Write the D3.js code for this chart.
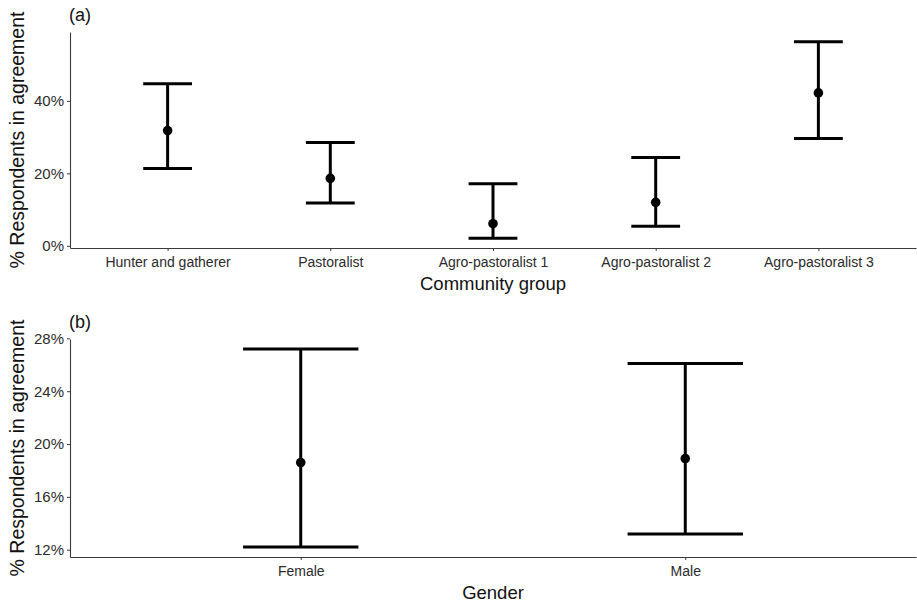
<!DOCTYPE html>
<html>
<head>
<meta charset="utf-8">
<script src="https://cdn.jsdelivr.net/npm/d3@7"></script>
<style>
  body { margin: 0; background: #fff; }
  svg { display: block; font-family: "Liberation Sans", Arial, sans-serif; }
</style>
</head>
<body>
<svg width="917" height="603"></svg>
<script>
// panel (a): community groups
var groups = ["Hunter and gatherer", "Pastoralist", "Agro-pastoralist 1", "Agro-pastoralist 2", "Agro-pastoralist 3"];
var groupMean = [31.8, 18.6, 6.1, 12.0, 42.2];
var groupLow = [21.3, 11.8, 2.1, 5.4, 29.6];
var groupHigh = [44.7, 28.5, 17.1, 24.4, 56.3];
var groupTicks = [0, 20, 40];

// panel (b): gender
var genders = ["Female", "Male"];
var genderMean = [18.6, 18.9];
var genderLow = [12.2, 13.2];
var genderHigh = [27.2, 26.1];
var genderTicks = [12, 16, 20, 24, 28];

var svg = d3.select('svg');

function panel(opt) {
    var g = svg.append('g');
    var lo = d3.min(opt.low), hi = d3.max(opt.high);
    var pad = (hi - lo) * 0.05;

    var y = d3.scaleLinear().domain([lo - pad, hi + pad]).range([opt.bottom, opt.top]);
    // ggplot-style discrete expansion: 0.6 of a step on each side
    var x = d3.scalePoint().domain(opt.cats).range([opt.left, opt.right]).padding(0.6);
    var step = x.step();

    var data = opt.cats.map((c, i) => ({ cat: c, mean: opt.mean[i], low: opt.low[i], high: opt.high[i] }));

    // axes
    var yAxis = d3.axisLeft(y).tickValues(opt.ticks).tickSize(3).tickSizeOuter(0).tickPadding(3)
        .tickFormat(d => d + '%');
    var xAxis = d3.axisBottom(x).tickSize(3).tickSizeOuter(0).tickPadding(6);

    var ya = g.append('g').attr('transform', 'translate(' + opt.left + ',0)').call(yAxis);
    var xa = g.append('g').attr('transform', 'translate(0,' + opt.bottom + ')').call(xAxis);
    [ya, xa].forEach(a => {
        a.select('.domain').attr('stroke', '#3a3a3a').attr('stroke-width', 1.1);
        a.selectAll('.tick line').attr('stroke', '#3a3a3a');
    });
    ya.selectAll('.tick text').attr('font-size', 15).attr('fill', '#2b2b2b');
    xa.selectAll('.tick text').attr('font-size', 14).attr('fill', '#2b2b2b');

    // error bars
    var capW = step * 0.3;
    var bars = g.selectAll('g.bar').data(data).enter().append('g').attr('class', 'bar');
    bars.append('line')
        .attr('x1', d => x(d.cat)).attr('x2', d => x(d.cat))
        .attr('y1', d => y(d.low)).attr('y2', d => y(d.high))
        .attr('stroke', '#000').attr('stroke-width', 3);
    bars.append('line')
        .attr('x1', d => x(d.cat) - capW / 2).attr('x2', d => x(d.cat) + capW / 2)
        .attr('y1', d => y(d.high)).attr('y2', d => y(d.high))
        .attr('stroke', '#000').attr('stroke-width', 3);
    bars.append('line')
        .attr('x1', d => x(d.cat) - capW / 2).attr('x2', d => x(d.cat) + capW / 2)
        .attr('y1', d => y(d.low)).attr('y2', d => y(d.low))
        .attr('stroke', '#000').attr('stroke-width', 3);
    bars.append('circle')
        .attr('cx', d => x(d.cat)).attr('cy', d => y(d.mean))
        .attr('r', 4.8).attr('fill', '#000');

    // labels
    g.append('text').attr('x', opt.left - 1).attr('y', opt.top - 11)
        .attr('font-size', 18).attr('fill', '#111').text(opt.tag);
    g.append('text')
        .attr('transform', 'translate(24,' + ((opt.top + opt.bottom) / 2) + ') rotate(-90)')
        .attr('text-anchor', 'middle').attr('font-size', 19.5).attr('fill', '#111')
        .text('% Respondents in agreement');
    g.append('text').attr('x', (opt.left + opt.right) / 2).attr('y', opt.bottom + 42)
        .attr('text-anchor', 'middle').attr('font-size', 18.5).attr('fill', '#111')
        .text(opt.xTitle);
}

panel({
    cats: groups, mean: groupMean, low: groupLow, high: groupHigh, ticks: groupTicks,
    left: 70, right: 916, top: 32, bottom: 248, tag: '(a)', xTitle: 'Community group'
});

panel({
    cats: genders, mean: genderMean, low: genderLow, high: genderHigh, ticks: genderTicks,
    left: 70, right: 916, top: 339, bottom: 557, tag: '(b)', xTitle: 'Gender'
});
</script>
</body>
</html>
